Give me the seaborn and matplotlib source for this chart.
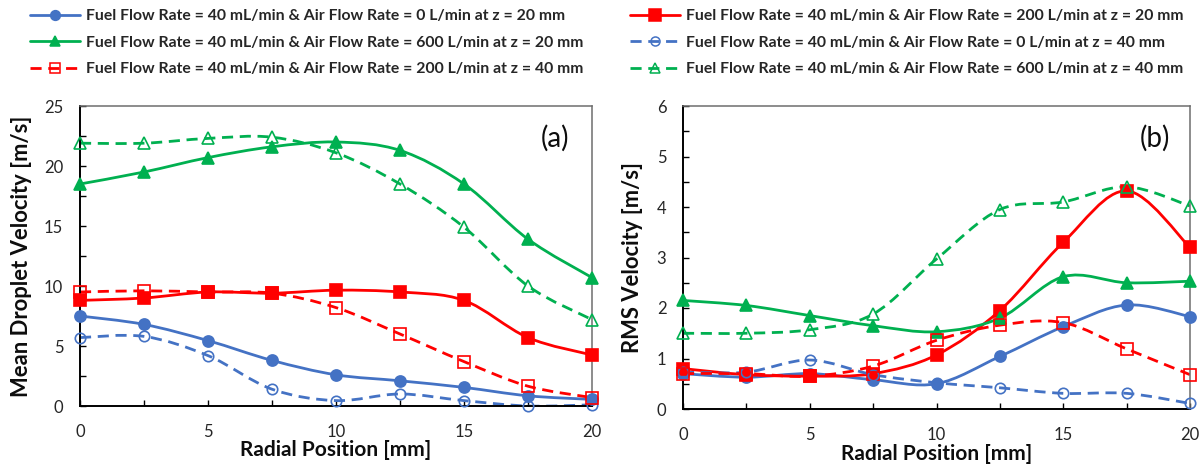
import numpy as np
import pandas as pd
import matplotlib
matplotlib.use("Agg")
import matplotlib.pyplot as plt
from matplotlib.path import Path
from matplotlib.patches import PathPatch
from matplotlib.lines import Line2D
from matplotlib.ticker import MultipleLocator
from matplotlib import font_manager
import seaborn as sns

# Radial measurement stations [mm]
radial_mm = [0, 2.5, 5, 7.5, 10, 12.5, 15, 17.5, 20]

# Mean droplet velocity [m/s]
mean_air0_z20 = [7.5, 6.8, 5.45, 3.8, 2.6, 2.1, 1.55, 0.85, 0.55]
mean_air200_z20 = [8.8, 9.0, 9.5, 9.4, 9.65, 9.5, 8.8, 5.7, 4.25]
mean_air600_z20 = [18.5, 19.5, 20.7, 21.6, 22.0, 21.3, 18.5, 13.9, 10.7]
mean_air0_z40 = [5.7, 5.8, 4.2, 1.4, 0.45, 1.0, 0.45, 0.0, 0.1]
mean_air200_z40 = [9.5, 9.6, 9.5, 9.4, 8.2, 6.0, 3.7, 1.65, 0.7]
mean_air600_z40 = [21.9, 21.9, 22.3, 22.4, 21.1, 18.5, 14.9, 10.0, 7.2]

# RMS velocity [m/s]
rms_air0_z20 = [0.7, 0.63, 0.7, 0.58, 0.5, 1.04, 1.63, 2.06, 1.83]
rms_air200_z20 = [0.8, 0.68, 0.65, 0.7, 1.07, 1.95, 3.3, 4.32, 3.2]
rms_air600_z20 = [2.15, 2.05, 1.85, 1.65, 1.53, 1.8, 2.62, 2.5, 2.53]
rms_air0_z40 = [0.73, 0.73, 0.97, 0.68, 0.52, 0.42, 0.31, 0.31, 0.11]
rms_air200_z40 = [0.7, 0.7, 0.65, 0.85, 1.36, 1.66, 1.71, 1.19, 0.68]
rms_air600_z40 = [1.5, 1.5, 1.57, 1.88, 2.97, 3.95, 4.1, 4.4, 4.02]

series_labels = [
    "Fuel Flow Rate = 40 mL/min & Air Flow Rate = 0 L/min at z = 20 mm",
    "Fuel Flow Rate = 40 mL/min & Air Flow Rate = 200 L/min at z = 20 mm",
    "Fuel Flow Rate = 40 mL/min & Air Flow Rate = 600 L/min at z = 20 mm",
    "Fuel Flow Rate = 40 mL/min & Air Flow Rate = 0 L/min at z = 40 mm",
    "Fuel Flow Rate = 40 mL/min & Air Flow Rate = 200 L/min at z = 40 mm",
    "Fuel Flow Rate = 40 mL/min & Air Flow Rate = 600 L/min at z = 40 mm",
]

mean_series = [mean_air0_z20, mean_air200_z20, mean_air600_z20,
               mean_air0_z40, mean_air200_z40, mean_air600_z40]
rms_series = [rms_air0_z20, rms_air200_z20, rms_air600_z20,
              rms_air0_z40, rms_air200_z40, rms_air600_z40]

BLUE, RED, GREEN = "#4472C4", "#FF0000", "#00B050"
styles = [
    dict(color=BLUE, marker="o", ms=8, filled=True, dashed=False),
    dict(color=RED, marker="s", ms=9, filled=True, dashed=False),
    dict(color=GREEN, marker="^", ms=8.5, filled=True, dashed=False),
    dict(color=BLUE, marker="o", ms=7.5, filled=False, dashed=True),
    dict(color=RED, marker="s", ms=8.5, filled=False, dashed=True),
    dict(color=GREEN, marker="^", ms=8, filled=False, dashed=True),
]
DASH = (0, (4, 2.4))
LW = 2.0

sns.set_style("white")
available = {f.name for f in font_manager.fontManager.ttflist}
family = [f for f in ["Lato", "Liberation Sans", "DejaVu Sans"] if f in available]
plt.rcParams["font.family"] = family
plt.rcParams["axes.linewidth"] = 1.2


def smooth_path(xs, ys, t=1 / 6):
    """Cubic Bezier path through the points (Catmull-Rom style smoothing)."""
    pts = np.column_stack([xs, ys]).astype(float)
    n = len(pts)
    verts, codes = [pts[0]], [Path.MOVETO]
    for i in range(n - 1):
        p0, p1 = pts[max(i - 1, 0)], pts[i]
        p2, p3 = pts[i + 1], pts[min(i + 2, n - 1)]
        verts += [p1 + (p2 - p0) * t, p2 - (p3 - p1) * t, p2]
        codes += [Path.CURVE4] * 3
    return Path(verts, codes)


def draw_panel(ax, data, ymax, ymajor, yminor, ylabel, tag, tag_xy, ylab_x, xlab_y):
    df = pd.DataFrame({"r": radial_mm * len(data),
                       "v": np.concatenate(data),
                       "series": np.repeat(np.arange(len(data)), len(radial_mm))})
    for k, st in enumerate(styles):
        sub = df[df["series"] == k]
        patch = PathPatch(smooth_path(sub["r"], sub["v"]), facecolor="none",
                          edgecolor=st["color"], lw=LW,
                          linestyle=DASH if st["dashed"] else "-",
                          capstyle="butt", zorder=2)
        ax.add_patch(patch)
        sns.lineplot(data=sub, x="r", y="v", ax=ax, estimator=None, sort=False,
                     linestyle="", marker=st["marker"], markersize=st["ms"],
                     markerfacecolor=st["color"] if st["filled"] else "none",
                     markeredgecolor=st["color"], markeredgewidth=1.2,
                     color=st["color"], clip_on=False, zorder=3, legend=False)
    ax.set_xlim(0, 20)
    ax.set_ylim(0, ymax)
    ax.xaxis.set_major_locator(MultipleLocator(5))
    ax.xaxis.set_minor_locator(MultipleLocator(2.5))
    ax.yaxis.set_major_locator(MultipleLocator(ymajor))
    ax.yaxis.set_minor_locator(MultipleLocator(yminor))
    ax.tick_params(which="both", direction="in", length=4.5, width=1,
                   bottom=True, left=True, top=False, right=False,
                   colors="#000000", labelcolor="#262626", labelsize=12)
    ax.tick_params(axis="x", which="major", pad=13)
    ax.tick_params(axis="y", which="major", pad=12)
    for side in ["left", "bottom"]:
        ax.spines[side].set_color("#000000")
        ax.spines[side].set_linewidth(1.4)
    for side in ["top", "right"]:
        ax.spines[side].set_color("#6E6E6E")
        ax.spines[side].set_linewidth(1.1)
    ax.set_xlabel("Radial Position [mm]", fontsize=15, fontweight="bold", color="#0D0D0D")
    ax.set_ylabel(ylabel, fontsize=15.8, fontweight="bold", color="#0D0D0D")
    ax.xaxis.set_label_coords(0.5, xlab_y)
    ax.xaxis.label.set_verticalalignment("center")
    ax.yaxis.set_label_coords(ylab_x, 0.5)
    ax.yaxis.label.set_verticalalignment("center")
    ax.text(tag_xy[0], tag_xy[1], tag, fontsize=20, ha="center", va="center", color="#0D0D0D")


fig = plt.figure(figsize=(12, 4.65), dpi=100)
ax_a = fig.add_axes([80 / 1200, 1 - 406 / 465, 512 / 1200, 300 / 465])
ax_b = fig.add_axes([683 / 1200, 1 - 409 / 465, 507 / 1200, 303 / 465])

draw_panel(ax_a, mean_series, 25, 5, 2.5, "Mean Droplet Velocity [m/s]", "(a)",
           (18.55, 22.3), -0.115, -0.147)
draw_panel(ax_b, rms_series, 6, 1, 0.5, "RMS Velocity [m/s]", "(b)",
           (18.6, 5.37), -0.099, -0.15)


def handle(st):
    return Line2D([0], [0], color=st["color"], lw=LW,
                  linestyle=DASH if st["dashed"] else "-",
                  marker=st["marker"], markersize=st["ms"] - 1,
                  markerfacecolor=st["color"] if st["filled"] else "none",
                  markeredgecolor=st["color"], markeredgewidth=1.1)


legend_kw = dict(loc="upper left", frameon=False, borderpad=0, borderaxespad=0,
                 handlelength=3.2, handletextpad=0.38, labelspacing=0.8,
                 prop=dict(family=family, weight="bold", size=11.3))
left_idx = [0, 2, 4]
right_idx = [1, 3, 5]
fig.legend([handle(styles[i]) for i in left_idx], [series_labels[i] for i in left_idx],
           bbox_to_anchor=(30 / 1200, 1 - 9 / 465), **legend_kw)
fig.legend([handle(styles[i]) for i in right_idx], [series_labels[i] for i in right_idx],
           bbox_to_anchor=(630 / 1200, 1 - 9 / 465), **legend_kw)

fig.savefig("out.png", dpi=100)
